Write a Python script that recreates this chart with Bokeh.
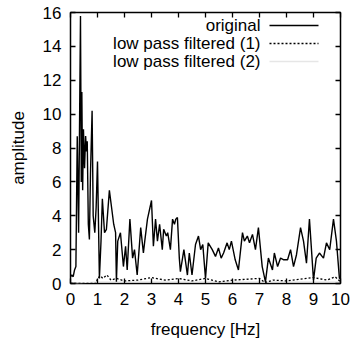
from bokeh.plotting import figure
from bokeh.models import Range1d, LinearAxis, FixedTicker, Label, PolyAnnotation, CustomJSTickFormatter
from bokeh.embed import file_html
from bokeh.resources import INLINE

# ---- data ----
freq = [0.00, 0.05, 0.10, 0.15, 0.20, 0.25, 0.30, 0.37, 0.40, 0.42, 0.45, 0.48, 0.52, 0.56, 0.59,
        0.62, 0.66, 0.70, 0.74, 0.80, 0.84, 0.90, 0.95, 1.00, 1.07, 1.13, 1.18, 1.26, 1.33, 1.44,
        1.52, 1.60, 1.67, 1.70, 1.75, 1.85, 1.96, 2.04, 2.10, 2.20, 2.30, 2.37, 2.47, 2.60, 2.70,
        2.75, 2.85, 3.00, 3.07, 3.15, 3.22, 3.30, 3.40, 3.45, 3.55, 3.60, 3.70, 3.78, 3.85, 3.90,
        3.96, 4.03, 4.07, 4.20, 4.33, 4.40, 4.50, 4.63, 4.74, 4.82, 4.90, 5.00, 5.10, 5.25, 5.37,
        5.48, 5.58, 5.67, 5.80, 5.88, 5.96, 6.10, 6.22, 6.37, 6.44, 6.55, 6.63, 6.74, 6.85, 6.96,
        7.10, 7.22, 7.33, 7.48, 7.55, 7.67, 7.78, 7.90, 8.04, 8.15, 8.26, 8.37, 8.52, 8.63, 8.74,
        8.85, 9.00, 9.10, 9.22, 9.37, 9.48, 9.60, 9.74, 9.85, 9.96, 10.00]
original = [0.4, 0.5, 0.4, 0.8, 1.0, 8.7, 3.0, 15.8, 6.0, 11.3, 5.5, 9.1, 6.8, 8.7, 7.8,
            8.4, 3.5, 2.6, 6.5, 10.2, 4.0, 3.0, 4.5, 7.2, 0.3, 2.5, 5.0, 3.0, 3.2, 5.5,
            4.5, 3.5, 3.0, 0.1, 2.5, 3.0, 1.0, 2.2, 0.8, 3.8, 1.5, 2.0, 0.5, 3.3, 1.8,
            2.5, 3.8, 4.9, 2.2, 3.8, 2.5, 3.5, 2.0, 3.2, 2.8, 3.0, 2.0, 3.8, 3.5, 3.8,
            3.9, 1.5, 0.7, 2.0, 0.5, 1.8, 0.5, 2.3, 2.8, 2.0, 2.3, 0.3, 2.4, 2.0, 1.6,
            2.1, 1.5, 1.8, 2.4, 2.0, 2.5, 1.4, 0.8, 3.0, 2.5, 2.8, 2.4, 2.9, 2.0, 3.3,
            1.0, 0.1, 1.5, 0.8, 1.8, 1.0, 1.5, 1.4, 1.4, 2.0, 1.0, 1.7, 3.3, 2.5, 1.2,
            3.8, 0.2, 1.5, 1.8, 1.5, 2.4, 2.0, 3.8, 2.5, 0.3, 0.3]

freq_lp1 = [0.0, 0.95, 1.0, 1.1, 1.2, 1.35, 1.5, 1.7, 2.0, 2.5, 3.0, 3.5, 4.0, 4.5, 5.0,
            5.5, 6.0, 6.5, 7.0, 7.2, 7.5, 8.0, 8.5, 9.0, 9.5, 9.8, 10.0]
lowpass1 = [0.0, 0.0, 0.3, 0.45, 0.3, 0.5, 0.2, 0.3, 0.15, 0.2, 0.35, 0.2, 0.3, 0.15, 0.3,
            0.1, 0.2, 0.25, 0.3, 0.05, 0.2, 0.15, 0.25, 0.35, 0.2, 0.4, 0.1]
freq_lp2 = [0.0, 1.0, 2.0, 3.0, 4.0, 5.0, 6.0, 7.0, 8.0, 9.0, 10.0]
lowpass2 = [0.0, 0.1, 0.1, 0.1, 0.1, 0.1, 0.1, 0.1, 0.1, 0.1, 0.1]

x_ticks = [0, 1, 2, 3, 4, 5, 6, 7, 8, 9, 10]
y_ticks = [0, 2, 4, 6, 8, 10, 12, 14, 16]
series_names = ["original", "low pass filtered (1)", "low pass filtered (2)"]

FONT = "Liberation Sans"
FS = "17px"

p = figure(width=353, height=341, output_backend="svg", toolbar_location=None,
           x_range=Range1d(0, 10), y_range=Range1d(0, 16),
           min_border_left=70, min_border_right=13, min_border_top=12, min_border_bottom=58)
p.background_fill_color = "white"
p.border_fill_color = "white"
p.grid.visible = False
p.outline_line_color = "black"
p.outline_line_width = 1.5

def style_axis(ax, ticks):
    ax.ticker = FixedTicker(ticks=ticks)
    ax.major_tick_in = 5
    ax.major_tick_out = 0
    ax.major_tick_line_color = "black"
    ax.major_tick_line_width = 1.3
    ax.minor_tick_line_color = None
    ax.axis_line_color = None
    ax.major_label_text_font = FONT
    ax.major_label_text_color = "black"
    ax.major_label_text_font_size = FS
    ax.axis_label_text_font = FONT
    ax.axis_label_text_font_style = "normal"
    ax.axis_label_text_font_size = FS
    ax.axis_label_text_color = "black"

style_axis(p.xaxis[0], x_ticks)
style_axis(p.yaxis[0], y_ticks)
p.xaxis[0].axis_label = "frequency [Hz]"
p.yaxis[0].axis_label = "amplitude"
p.xaxis[0].major_label_standoff = 9
p.xaxis[0].axis_label_standoff = 12
p.yaxis[0].major_label_standoff = 9
p.yaxis[0].axis_label_standoff = 12

# mirrored ticks (gnuplot style) on top and right, no labels
for ticks, side in ((x_ticks, "above"), (y_ticks, "right")):
    ax = LinearAxis()
    style_axis(ax, ticks)
    ax.formatter = CustomJSTickFormatter(code="return ''")
    ax.major_label_standoff = 0
    p.add_layout(ax, side)

p.line(freq_lp2, lowpass2, line_color="#e6e6e6", line_width=1)
p.line(freq_lp1, lowpass1, line_color="black", line_width=1.3, line_dash="2 2")
p.line(freq, original, line_color="black", line_width=1.4)

# gnuplot-style key: right-aligned text, sample line on the right (screen units, frame-relative)
styles = [dict(line_color="black", line_dash="solid"),
          dict(line_color="black", line_dash="2 2"),
          dict(line_color="#e6e6e6", line_dash="solid")]
for i, name in enumerate(series_names):
    sy = 258 - 18 * i
    p.add_layout(Label(x=190, y=sy, x_units="screen", y_units="screen", text=name,
                       text_align="right", text_baseline="middle", text_font=FONT,
                       text_font_size=FS, text_color="black"))
    p.add_layout(PolyAnnotation(xs=[199, 248, 248, 199], ys=[sy, sy, sy, sy],
                                xs_units="screen", ys_units="screen", fill_alpha=0,
                                line_alpha=1.0, line_width=1.3, **styles[i]))

open("out.html", "w").write(file_html(p, INLINE))
